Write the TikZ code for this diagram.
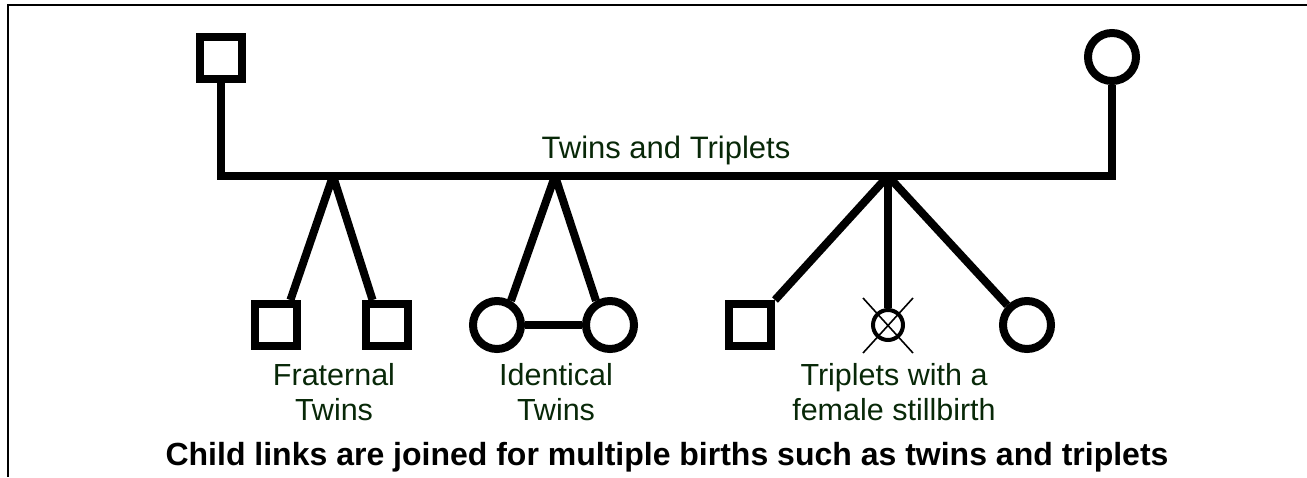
\documentclass[tikz,border=0pt]{standalone}
\usepackage{fontspec}
\setmainfont{Liberation Sans}
\usetikzlibrary{calc}
\definecolor{txtgreen}{RGB}{8,40,8}
\pgfdeclarelayer{bg}
\pgfsetlayers{bg,main}
\begin{document}
\begin{tikzpicture}[x=1pt,y=-1pt,
  sq/.style={draw,line width=8pt,minimum size=42pt,inner sep=0pt,fill=white},
  ci/.style={draw,circle,line width=8pt,minimum size=48pt,inner sep=0pt,fill=white},
  sb/.style={draw,circle,line width=4pt,minimum size=30pt,inner sep=0pt,fill=white},
  link/.style={line width=8pt,line join=miter},
  thin/.style={line width=1.6pt},
  lbl/.style={text=txtgreen,font=\fontsize{30.5}{35}\selectfont,align=center,inner sep=0pt,anchor=north}]
\useasboundingbox (0,0) rectangle (1307,477);
\draw[line width=1.5pt] (7,5) -- (1307,5);
\draw[line width=2.5pt] (8,5) -- (8,477);
% parents
\node[sq] (f) at (221,58) {};
\node[ci] (m) at (1112,57) {};
\coordinate (L) at (221,176);
\coordinate (R) at (1112,176);
\coordinate (J1) at (333,176);
\coordinate (J2) at (555,176);
\coordinate (J3) at (888,176);
% children
\node[sq] (s1) at (276,325) {};
\node[sq] (s2) at (387,325) {};
\node[ci] (c1) at (497,325) {};
\node[ci] (c2) at (610,325) {};
\node[sq] (t1) at (750,325) {};
\node[sb] (t2) at (888,325) {};
\node[ci] (t3) at (1027,325) {};
\begin{pgfonlayer}{bg}
\draw[link] (f) -- (L) -- (R) -- (m);
\draw[link] (J1) -- (s1.60);
\draw[link] (J1) -- (s2.120);
\draw[link] (J2) -- (c1.60);
\draw[link] (J2) -- (c2.120);
\draw[link] (c1.east) -- (c2.west);
\draw[link] (J3) -- (t1.45);
\draw[link] (J3) -- (t2.north);
\draw[link] (J3) -- (t3.135);
\end{pgfonlayer}
\draw[thin] ($(t2)+(-25,-27)$) -- ($(t2)+(25,28)$);
\draw[thin] ($(t2)+(25,-27)$) -- ($(t2)+(-25,28)$);
% texts
\node[text=txtgreen,font=\fontsize{31}{35}\selectfont,inner sep=0pt,anchor=base] (title) at (666,158) {Twins and Triplets};
\node[lbl] (lf) at (334,363) {Fraternal\\Twins};
\node[lbl] (li) at (556,363) {Identical\\Twins};
\node[lbl] (lt) at (894,363) {Triplets with a\\female stillbirth};
\node[font=\fontsize{32}{35}\selectfont\bfseries,inner sep=0pt,anchor=base] (cap) at (667,465) {Child links are joined for multiple births such as twins and triplets};
\end{tikzpicture}
\end{document}
